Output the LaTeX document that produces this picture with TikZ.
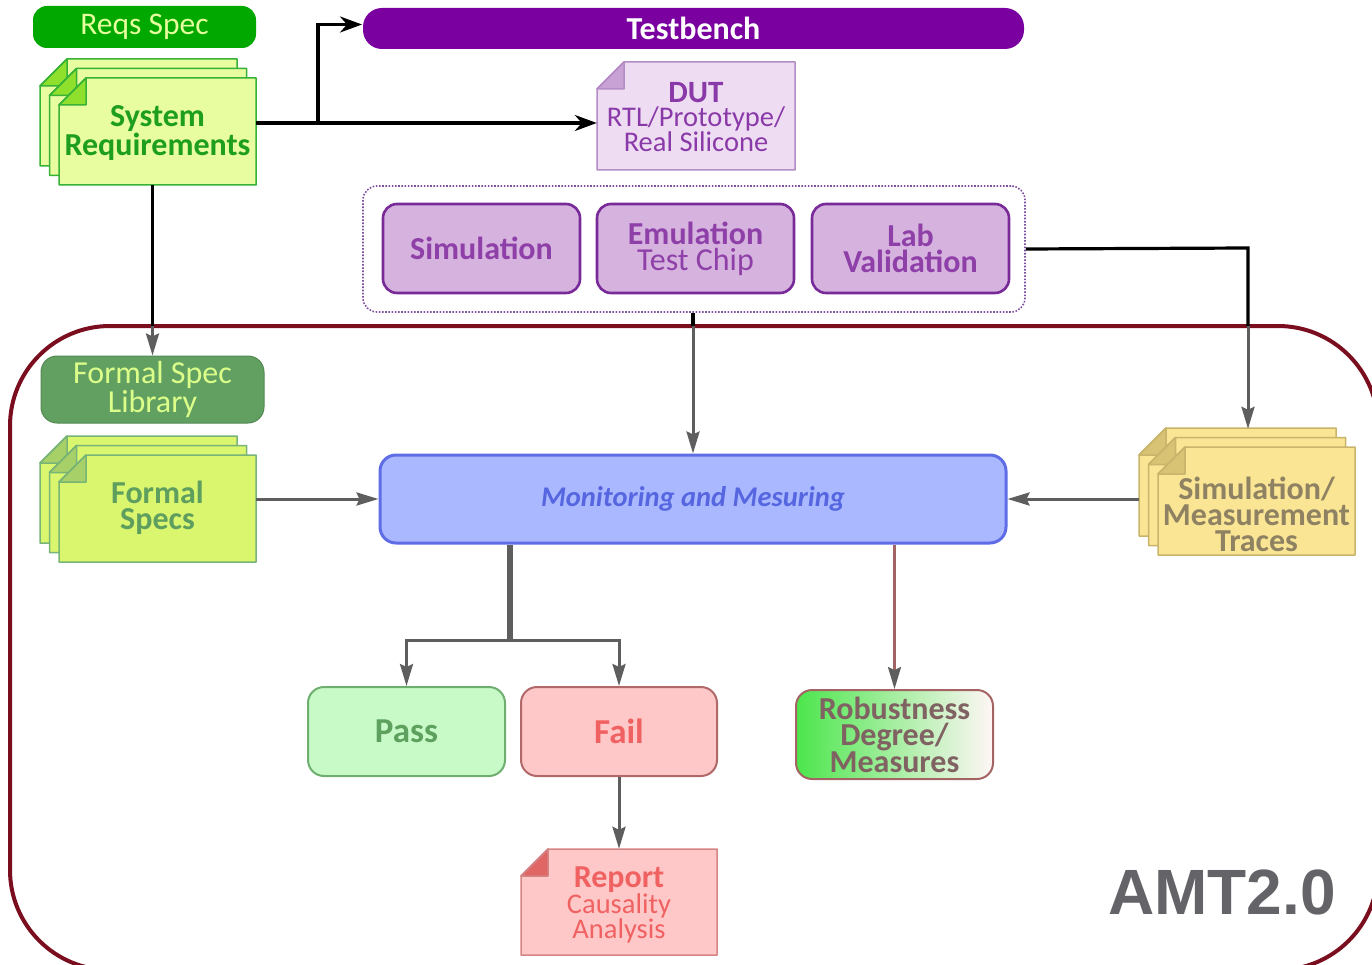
\documentclass[tikz,border=0pt]{standalone}
\usepackage{fontspec}
\setmainfont{Carlito}
\newfontfamily\arialfont{Liberation Sans}
\usetikzlibrary{arrows.meta,calc}
\definecolor{reqgreen}{HTML}{00A800}
\definecolor{reqtext}{HTML}{E4FF9C}
\definecolor{sysfill}{HTML}{E8FCA0}
\definecolor{sysdraw}{HTML}{36B236}
\definecolor{sysfold}{HTML}{8EE02C}
\definecolor{systext}{HTML}{1E9E1E}
\definecolor{tbpurple}{HTML}{7A00A0}
\definecolor{dutfill}{HTML}{EEDDF2}
\definecolor{dutdraw}{HTML}{B48CC6}
\definecolor{dutfold}{HTML}{C9A2D5}
\definecolor{duttext}{HTML}{8A3AA8}
\definecolor{simfill}{HTML}{D6B2DE}
\definecolor{simdraw}{HTML}{782A98}
\definecolor{simtext}{HTML}{8E40A8}
\definecolor{dotcol}{HTML}{8050A0}
\definecolor{framecol}{HTML}{7A0E1E}
\definecolor{fslfill}{HTML}{62A062}
\definecolor{fsltext}{HTML}{DCFF8A}
\definecolor{fsfill}{HTML}{DAF56E}
\definecolor{fsdraw}{HTML}{78B478}
\definecolor{fsfold}{HTML}{A8D068}
\definecolor{fstext}{HTML}{5E9E5E}
\definecolor{monfill}{HTML}{AAB9FF}
\definecolor{mondraw}{HTML}{5E6CE6}
\definecolor{montext}{HTML}{5566E0}
\definecolor{trfill}{HTML}{FAE594}
\definecolor{trdraw}{HTML}{C8B46A}
\definecolor{trfold}{HTML}{D8C274}
\definecolor{trtext}{HTML}{8E8262}
\definecolor{passfill}{HTML}{C8FAC8}
\definecolor{passdraw}{HTML}{6EAE6E}
\definecolor{passtext}{HTML}{5EA05E}
\definecolor{failfill}{HTML}{FFC8C8}
\definecolor{faildraw}{HTML}{B06868}
\definecolor{failtext}{HTML}{F06262}
\definecolor{robgreen}{HTML}{4CE64C}
\definecolor{robwhite}{HTML}{FFF6F6}
\definecolor{robdraw}{HTML}{A46464}
\definecolor{robtext}{HTML}{806262}
\definecolor{repdraw}{HTML}{D48484}
\definecolor{repfold}{HTML}{E06666}
\definecolor{arrgray}{HTML}{5E5E5E}
\definecolor{amtgray}{HTML}{646468}
\definecolor{brline}{HTML}{A06464}
\newcommand{\fsz}[2]{\fontsize{#1}{#2}\selectfont}
\newcommand{\mydocsheet}[8]{%
  \filldraw[fill=#6,draw=#7,line width=1.5pt,line join=round]
    (#1+#5,#2) -- (#3,#2) -- (#3,#4) -- (#1,#4) -- (#1,#2+#5) -- cycle;
  \filldraw[fill=#8,draw=#7,line width=1.5pt,line join=round]
    (#1,#2+#5) -- (#1+#5,#2) -- (#1+#5,#2+#5) -- cycle;}
\newcommand{\mystack}[7]{%
  \mydocsheet{#1-19}{#2-19}{#3-19}{#4-19}{27}{#5}{#6}{#7}
  \mydocsheet{#1-9.5}{#2-9.5}{#3-9.5}{#4-9.5}{27}{#5}{#6}{#7}
  \mydocsheet{#1}{#2}{#3}{#4}{27}{#5}{#6}{#7}}
\tikzset{
  lbl/.style={align=center,inner sep=0pt},
  rbox/.style={rounded corners=14pt,minimum width=197pt,minimum height=89pt,
    line width=2pt,align=center,inner sep=0pt},
  purplebox/.style={rbox,fill=simfill,draw=simdraw,line width=2.6pt,text=simtext},
  blkarrow/.style={line width=3.2pt,black,-{Stealth[length=22pt,width=16pt,inset=7pt]}},
  blkline/.style={line width=3.2pt,black},
  grayarrow/.style={line width=3pt,arrgray,-{Stealth[length=22pt,width=13pt,inset=3pt]}},
  stackbox/.style={inner sep=0pt,minimum width=216pt,minimum height=126pt},
}
\begin{document}
\begin{tikzpicture}[x=1pt,y=-1pt]
\useasboundingbox (0,0) rectangle (1372,965);
% big frame
\draw[framecol,line width=4pt,rounded corners=100pt] (10,326) rectangle (1378,970);
% requirement spec
\node[rbox,minimum width=223pt,minimum height=42pt,fill=reqgreen,text=reqtext,
  font=\fsz{31.5}{27}] (reqs) at (144.5,27) {Reqs Spec};
\node[rbox,rounded corners=19pt,minimum width=661pt,minimum height=41pt,fill=tbpurple,
  text=white,font=\bfseries\fsz{32}{27}] (tb) at (693.5,28.5) {Testbench};
% system requirements stack
\mystack{59}{78}{256}{185}{sysfill}{sysdraw}{sysfold}
\node[stackbox] (sysstack) at (148,122) {};
\node[lbl,text=systext,font=\bfseries\fsz{32}{26}] (sysreq) at (157.5,133) {System\\Requirements};
% DUT
\mydocsheet{597}{62}{795}{170}{27}{dutfill}{dutdraw}{dutfold}
\node[lbl,text=duttext,font=\fsz{28.5}{24}] (dut) at (696,117)
  {{\bfseries\fsz{31}{24}DUT}\\RTL/Prototype/\\Real Silicone};
\node[inner sep=0pt,minimum width=198pt,minimum height=108pt] (dutbox) at (696,116) {};
% group of platforms
\node[draw=dotcol,dash pattern=on 1.6pt off 1.6pt,line width=1.6pt,rounded corners=14pt,
  minimum width=662pt,minimum height=126pt,inner sep=0pt] (grp) at (694,249) {};
\node[purplebox,font=\bfseries\fsz{32}{26}] (sim) at (481.5,248.5) {Simulation};
\node[purplebox,font=\fsz{32}{26}] (emu) at (695.5,248.5) {{\bfseries Emulation}\\Test Chip};
\node[purplebox,font=\bfseries\fsz{32}{26}] (lab) at (910.5,248.5) {Lab\\Validation};
% formal spec library
\node[rbox,minimum width=223pt,minimum height=67pt,rounded corners=16pt,fill=fslfill,
  draw=fslfill!85!black,line width=1pt,text=fsltext,font=\fsz{32}{26}] (fsl) at (152.5,389.5)
  {Formal Spec\\Library};
% formal specs stack
\mystack{59}{455}{256}{562}{fsfill}{fsdraw}{fsfold}
\node[stackbox] (fsstack) at (148,499) {};
\node[lbl,text=fstext,font=\bfseries\fsz{32}{26}] (fs) at (157.5,508) {Formal\\Specs};
% monitoring
\node[rbox,minimum width=626pt,minimum height=88pt,rounded corners=16pt,line width=3pt,
  fill=monfill,draw=mondraw,text=montext,font=\bfseries\itshape\fsz{28.5}{25}] (mon) at (693,499)
  {Monitoring and Mesuring};
% traces stack
\mystack{1158}{447}{1355}{555}{trfill}{trdraw}{trfold}
\node[stackbox] (trstack) at (1247,492) {};
\node[lbl,text=trtext,font=\bfseries\fsz{32}{26}] (tr) at (1256.5,514) {Simulation/\\Measurement\\Traces};
% results
\node[rbox,rounded corners=16pt,fill=passfill,draw=passdraw,text=passtext,
  font=\bfseries\fsz{35}{31}] (pass) at (406.5,731.5) {Pass};
\node[rbox,rounded corners=16pt,minimum width=196pt,fill=failfill,draw=faildraw,text=failtext,
  font=\bfseries\fsz{35}{31}] (fail) at (619,731.5) {Fail};
\node[rbox,rounded corners=16pt,left color=robgreen,right color=robwhite,draw=robdraw,
  text=robtext,font=\bfseries\fsz{32}{26}] (rob) at (894.5,734.5) {Robustness\\Degree/\\Measures};
% report
\mydocsheet{521}{849}{717}{955}{27}{failfill}{repdraw}{repfold}
\node[lbl,text=failtext,font=\fsz{28.5}{24}] (rep) at (619,905)
  {{\bfseries\fsz{32}{24}Report}\\Causality\\Analysis};
\node[inner sep=0pt,minimum width=196pt,minimum height=106pt] (repbox) at (619,902) {};
% AMT label
\node[lbl,text=amtgray,font=\arialfont\bfseries\fsz{64}{64}] (amt) at (1222,892) {AMT2.0};
% connectors
\coordinate (j1) at (318,123);
\coordinate (ftop) at (700,326);
\coordinate (split) at (510,640);
\coordinate (corner) at (1248,248);
\draw[blkline] (sysstack.east |- j1) -- (j1);
\draw[blkarrow] (j1) -- (j1 -| dutbox.west);
\draw[blkarrow] (j1) |- ([yshift=4pt]tb.west);
\draw[blkline] (fsl.north |- sysstack.south) -- (fsl.north |- ftop);
\draw[grayarrow] (fsl.north |- ftop) -- (fsl.north);
\draw[blkline] (grp.south -| mon.north) -- (mon.north |- ftop);
\draw[grayarrow] (mon.north |- ftop) -- (mon.north);
\draw[blkline] (grp.east) -- (corner) -- (corner |- ftop);
\draw[grayarrow] (corner |- ftop) -- (corner |- trstack.north);
\draw[grayarrow] (fsstack.east |- mon.west) -- (mon.west);
\draw[grayarrow] (trstack.west |- mon.east) -- (mon.east);
\draw[line width=6pt,arrgray] (split |- mon.south) -- (split);
\draw[grayarrow] (split) -| (pass.north);
\draw[grayarrow] (split) -| (fail.north);
\draw[line width=2.5pt,brline,-{Stealth[length=22pt,width=13pt,inset=3pt,color=arrgray]}]
  (rob.north |- mon.south) -- (rob.north);
\draw[grayarrow] (fail.south) -- (repbox.north);
\end{tikzpicture}
\end{document}
